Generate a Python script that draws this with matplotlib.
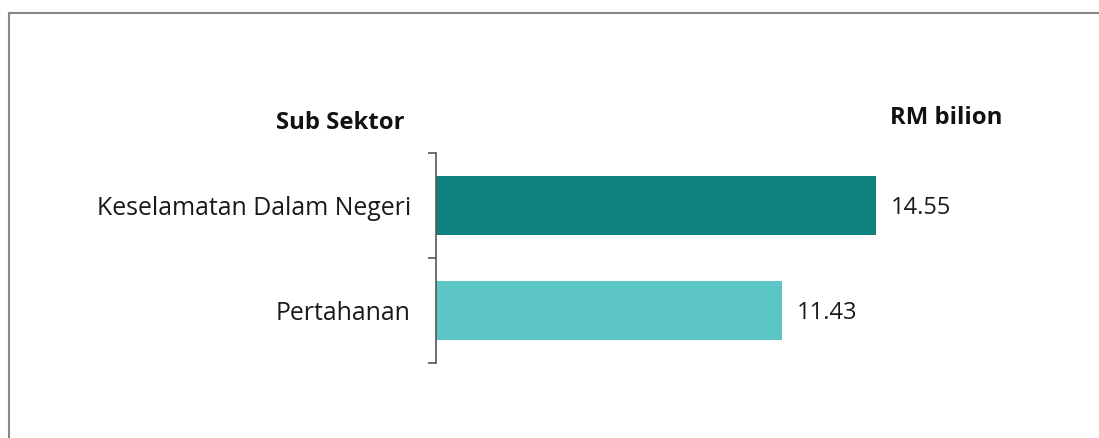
import matplotlib
matplotlib.use('Agg')
import matplotlib.pyplot as plt
from matplotlib.lines import Line2D

plt.rcParams['font.family'] = ['Open Sans', 'DejaVu Sans']

sub_sektor = ['Keselamatan Dalam Negeri', 'Pertahanan']
nilai = [14.55, 11.43]
warna = ['#0f827f', '#5bc6c5']

fig = plt.figure(figsize=(10.99, 4.38), dpi=100)
ax = fig.add_axes([0.3967, 0.1712, 0.5505, 0.4795])

y = list(range(len(sub_sektor)))
bars = ax.barh(y, nilai, height=0.57, color=warna)
for b, v in zip(bars, nilai):
    ax.text(b.get_width() + 0.5, b.get_y() + b.get_height() / 2 + 0.02, f'{v:.2f}',
            va='center', ha='left', fontsize=17, color='#1a1a1a')

ax.set_xlim(0, 20)
ax.set_ylim(len(sub_sektor) - 0.5, -0.5)

# tick marks at the boundaries, labels at the centres
ax.set_yticks([i - 0.5 for i in range(len(sub_sektor) + 1)])
ax.set_yticklabels([])
ax.set_yticks(y, minor=True)
ax.set_yticklabels(sub_sektor, minor=True, fontsize=17.9, color='#1a1a1a')
ax.tick_params(axis='y', which='major', length=6, width=1.2, color='#555555')
ax.tick_params(axis='y', which='minor', length=0, pad=18)
ax.set_xticks([])

for s in ['top', 'right', 'bottom']:
    ax.spines[s].set_visible(False)
ax.spines['left'].set_color('#555555')
ax.spines['left'].set_linewidth(1.2)

fig.text(405 / 1099, 1 - 123 / 438, 'Sub Sektor', ha='right', va='center',
         fontsize=17.2, fontweight='bold', color='#111111')
fig.text(890 / 1099, 1 - 118 / 438, 'RM bilion', ha='left', va='center',
         fontsize=17.2, fontweight='bold', color='#111111')

# border top and left
fig.add_artist(Line2D([8.5 / 1099, 8.5 / 1099], [0, 1 - 12.5 / 438],
                      transform=fig.transFigure, color='#888888', lw=1.5))
fig.add_artist(Line2D([8.5 / 1099, 1], [1 - 12.5 / 438, 1 - 12.5 / 438],
                      transform=fig.transFigure, color='#888888', lw=1.5))

fig.savefig('out.png', dpi=100)
